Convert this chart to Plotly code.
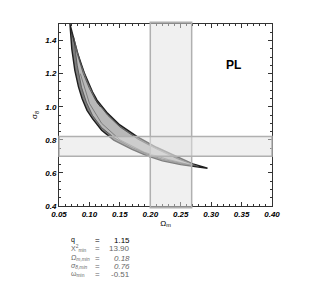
import plotly.graph_objects as go

# ---- data ----
omega_outer = [0.068, 0.080, 0.092, 0.105, 0.1125, 0.13, 0.15, 0.179, 0.21, 0.245, 0.27, 0.294,
               0.27, 0.25, 0.22, 0.195, 0.17, 0.14, 0.12, 0.105, 0.096, 0.088, 0.082, 0.076, 0.071, 0.068]
sigma_outer = [1.50, 1.33, 1.20, 1.09, 1.04, 0.96, 0.89, 0.818, 0.755, 0.695, 0.655, 0.628,
               0.638, 0.650, 0.673, 0.703, 0.742, 0.798, 0.858, 0.928, 0.978, 1.048, 1.12, 1.22, 1.35, 1.50]
omega_inner = [0.074, 0.085, 0.097, 0.112, 0.13, 0.15, 0.18, 0.21, 0.245, 0.28,
               0.25, 0.22, 0.195, 0.17, 0.14, 0.12, 0.105, 0.095, 0.087, 0.080, 0.074]
sigma_inner = [1.42, 1.27, 1.15, 1.03, 0.948, 0.878, 0.803, 0.745, 0.685, 0.638,
               0.658, 0.683, 0.714, 0.754, 0.814, 0.874, 0.948, 1.028, 1.118, 1.25, 1.42]
omega_line1 = [0.070, 0.080, 0.090, 0.100, 0.110, 0.118, 0.112]
sigma_line1 = [1.46, 1.32, 1.20, 1.11, 1.04, 1.00, 1.03]
omega_line2 = [0.085, 0.100, 0.120, 0.150, 0.190, 0.230, 0.270]
sigma_line2 = [1.20, 1.02, 0.90, 0.80, 0.725, 0.680, 0.645]
band_omega = [0.20, 0.268]
band_sigma = [0.70, 0.82]
x_ticks = [0.05, 0.10, 0.15, 0.20, 0.25, 0.30, 0.35, 0.40]
y_ticks = [0.4, 0.6, 0.8, 1.0, 1.2, 1.4]
stat_labels = ["q", "Χ<sup>2</sup><sub>min</sub>", "<i>Ω<sub>m,min</sub></i>",
               "<i>σ<sub>8,min</sub></i>", "ω<sub>min</sub>"]
stat_values = ["1.15", "13.90", "<i>0.18</i>", "<i>0.76</i>", "-0.51"]

fig = go.Figure()

fig.add_trace(go.Scatter(x=omega_outer, y=sigma_outer, mode="lines", fill="toself",
                         fillcolor="#7c7c7c", line=dict(color="#1e1e1e", width=1.4),
                         hoverinfo="skip", showlegend=False))
fig.add_trace(go.Scatter(x=omega_inner, y=sigma_inner, mode="lines", fill="toself",
                         fillcolor="#b8b8b8", line=dict(color="#444444", width=0.7),
                         hoverinfo="skip", showlegend=False))
fig.add_trace(go.Scatter(x=omega_line1, y=sigma_line1, mode="lines",
                         line=dict(color="#333333", width=0.7), hoverinfo="skip", showlegend=False))
fig.add_trace(go.Scatter(x=omega_line2, y=sigma_line2, mode="lines",
                         line=dict(color="#555555", width=0.6), hoverinfo="skip", showlegend=False))

# bands
fig.add_shape(type="rect", xref="x", yref="paper", x0=band_omega[0], x1=band_omega[1],
              y0=-0.01, y1=1.01, fillcolor="rgba(225,225,225,0.5)",
              line=dict(color="#b0b0b0", width=1.5), layer="above")
fig.add_shape(type="rect", xref="paper", yref="y", x0=0, x1=1,
              y0=band_sigma[0], y1=band_sigma[1], fillcolor="rgba(225,225,225,0.5)",
              line=dict(color="#b0b0b0", width=1.5), layer="above")

tickfont = dict(family="Liberation Sans", size=8, color="black", style="italic", weight="bold")
fig.update_xaxes(range=[0.05, 0.40], tickvals=x_ticks, ticktext=["%.2f" % v for v in x_ticks],
                 ticks="inside", ticklen=4, tickcolor="#333", mirror="allticks",
                 showline=True, linecolor="#333", linewidth=1, showgrid=False, zeroline=False,
                 minor=dict(ticks="inside", ticklen=2, dtick=0.01, tickcolor="#333"),
                 tickfont=tickfont,
                 title=dict(text="Ω<sub>m</sub>", font=dict(family="Liberation Sans", size=8, color="black"),
                            standoff=2))
fig.update_yaxes(range=[0.4, 1.5], tickvals=y_ticks, ticktext=["%.1f" % v for v in y_ticks],
                 ticks="inside", ticklen=4, tickcolor="#333", mirror="allticks",
                 showline=True, linecolor="#333", linewidth=1, showgrid=False, zeroline=False,
                 minor=dict(ticks="inside", ticklen=2, dtick=0.05, tickcolor="#333"),
                 tickfont=tickfont,
                 title=dict(text="σ<sub>8</sub>", font=dict(family="Liberation Sans", size=8, color="black"),
                            standoff=6))

fig.add_annotation(x=0.337, y=1.25, xref="x", yref="y", text="<b>PL</b>", showarrow=False,
                   font=dict(family="Liberation Sans", size=12, color="black"))

ys = [-0.187, -0.236, -0.286, -0.330, -0.374]
for i, (lab, val, yy) in enumerate(zip(stat_labels, stat_values, ys)):
    col = "black" if i == 0 else "#666666"
    fig.add_annotation(x=0.047, y=yy, xref="paper", yref="paper", text=lab, showarrow=False,
                       xanchor="left", yanchor="middle",
                       font=dict(family="Liberation Sans", size=7, color=col))
    fig.add_annotation(x=0.183, y=yy, xref="paper", yref="paper", text="=", showarrow=False,
                       xanchor="center", yanchor="middle",
                       font=dict(family="Liberation Sans", size=8, color=col))
    fig.add_annotation(x=0.343, y=yy, xref="paper", yref="paper", text=val, showarrow=False,
                       xanchor="right", yanchor="middle",
                       font=dict(family="Liberation Sans", size=8, color=col))

fig.update_layout(width=325, height=305, margin=dict(l=51, r=61, t=16, b=107),
                  paper_bgcolor="white", plot_bgcolor="white", showlegend=False)

fig.write_html("out.html")
